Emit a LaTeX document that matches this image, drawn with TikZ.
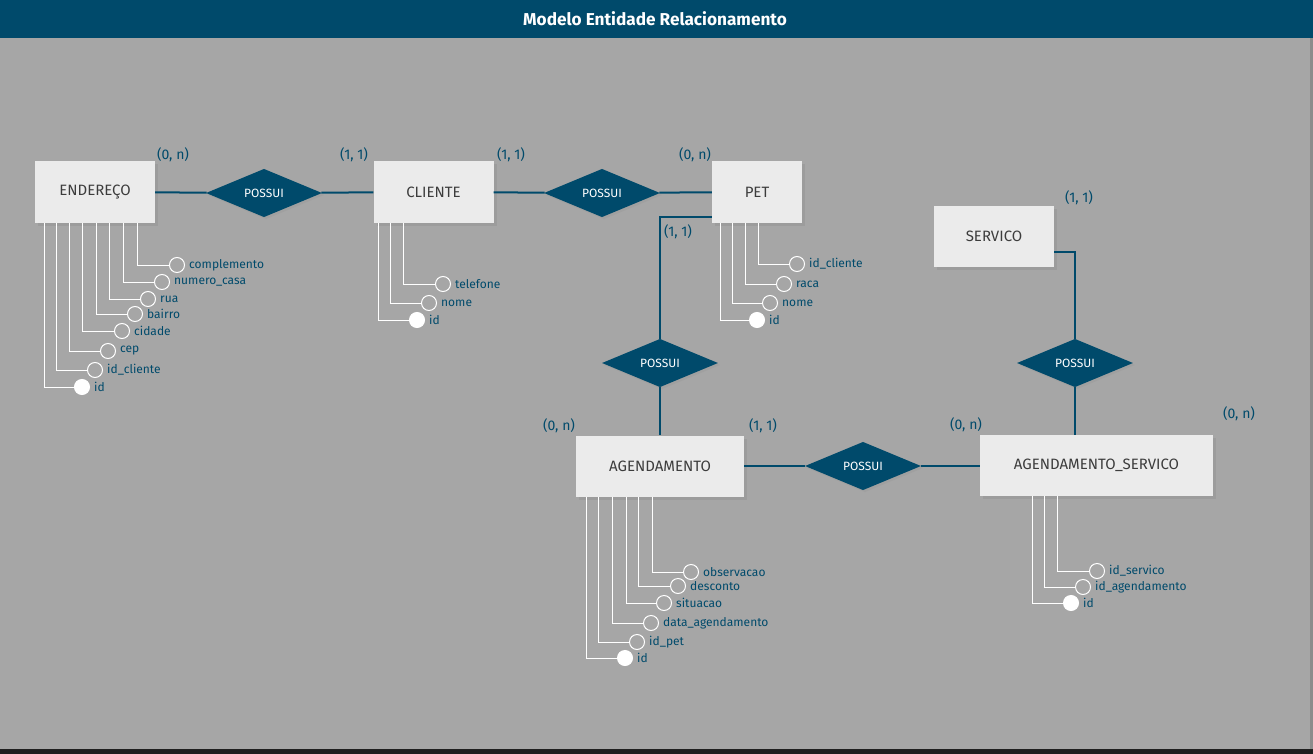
\documentclass[tikz,border=0pt]{standalone}
\usepackage{fontspec}
\setmainfont{Fira Sans}
\usetikzlibrary{shapes.geometric,shadows}
\definecolor{mblue}{HTML}{004A6B}
\definecolor{mgray}{HTML}{A6A6A6}
\definecolor{etext}{HTML}{3C3C3C}
\begin{document}
\begin{tikzpicture}[x=1pt, y=-1pt,
  ent/.style={rectangle, fill=white!92!black, minimum width=120pt, minimum height=61pt, inner sep=0pt,
    text=etext, font=\fontsize{15}{17}\selectfont,
    drop shadow={shadow xshift=3pt, shadow yshift=-3pt, opacity=0.25}},
  rel/.style={diamond, fill=mblue, minimum width=116pt, minimum height=46pt, inner sep=0pt,
    text=white, font=\fontsize{12}{14}\selectfont,
    drop shadow={shadow xshift=2pt, shadow yshift=-2pt, opacity=0.15}},
  link/.style={draw=mblue, line width=2pt},
  attr/.style={circle, draw=white, line width=1pt, minimum size=15pt, inner sep=0pt},
  key/.style={attr, fill=white},
  attrline/.style={draw=white, line width=1pt},
  attrtxt/.style={text=mblue, font=\fontsize{12}{14}\selectfont, inner sep=0pt, xshift=4pt},
  card/.style={text=mblue, font=\fontsize{14}{16}\selectfont}]
\useasboundingbox (0,0) rectangle (1313,754);
\fill[mgray] (0,0) rectangle (1313,754);
\fill[black!45] (1310,38) rectangle (1313,749);
\fill[black!88] (0,749) rectangle (1313,754);
\fill[mblue] (0,0) rectangle (1313,38);
\node[text=white, font=\bfseries\fontsize{17.2}{19}\selectfont] (title) at (655,19){Modelo Entidade Relacionamento};

% entidades
\node[ent] (ent0) at (95,192){ENDEREÇO};
\node[ent] (ent1) at (433.5,192){CLIENTE};
\node[ent, minimum width=90pt] (ent2) at (757,192){PET};
\node[ent] (ent3) at (994,236.5){SERVICO};
\node[ent, minimum width=168pt] (ent4) at (660,466){AGENDAMENTO};
\node[ent, minimum width=233pt] (ent5) at (1096.5,465.5){AGENDAMENTO\_SERVICO};

% relacionamentos
\node[rel] (rel0) at (264,193){POSSUI};
\node[rel] (rel1) at (602,193){POSSUI};
\node[rel] (rel2) at (660,363){POSSUI};
\node[rel] (rel3) at (863,466){POSSUI};
\node[rel] (rel4) at (1075,363){POSSUI};
\draw[link](ent0) -- (rel0);
\draw[link](rel0) -- (ent1);
\draw[link](ent1) -- (rel1);
\draw[link](rel1) -- (ent2);
\draw[link]([yshift=6pt]ent2.south west) -| (rel2);
\draw[link](rel2) -- (ent4);
\draw[link](ent4) -- (rel3);
\draw[link](rel3) -- (ent5.west |- rel3);
\draw[link]([yshift=15pt]ent3.south east) -| (rel4);
\draw[link](rel4) -- (rel4 |- ent5.north);

% cardinalidades
\node[card] (c0) at (173,155){(0, n)};
\node[card] (c1) at (354,155){(1, 1)};
\node[card] (c2) at (511,155){(1, 1)};
\node[card] (c3) at (695,155){(0, n)};
\node[card] (c4) at (678,232){(1, 1)};
\node[card] (c5) at (1079,198){(1, 1)};
\node[card] (c6) at (559,426){(0, n)};
\node[card] (c7) at (763,426){(1, 1)};
\node[card] (c8) at (966,425){(0, n)};
\node[card] (c9) at (1239,414){(0, n)};

% atributos ENDERECO
\node[key, label={[attrtxt]right:id}] (a0) at (82,387){};
\node[attr, label={[attrtxt]right:id\_cliente}] (a1) at (95,370){};
\node[attr, label={[attrtxt]right:cep}] (a2) at (108,351){};
\node[attr, label={[attrtxt]right:cidade}] (a3) at (122,331){};
\node[attr, label={[attrtxt]right:bairro}] (a4) at (135,314){};
\node[attr, label={[attrtxt]right:rua}] (a5) at (148,299){};
\node[attr, label={[attrtxt]right:numero\_casa}] (a6) at (162,282){};
\node[attr, label={[attrtxt]right:complemento}] (a7) at (177,265){};
\draw[attrline]([xshift=10pt]ent0.south west) |- (a0);
\draw[attrline]([xshift=22pt]ent0.south west) |- (a1);
\draw[attrline]([xshift=35pt]ent0.south west) |- (a2);
\draw[attrline]([xshift=48pt]ent0.south west) |- (a3);
\draw[attrline]([xshift=62pt]ent0.south west) |- (a4);
\draw[attrline]([xshift=75pt]ent0.south west) |- (a5);
\draw[attrline]([xshift=89pt]ent0.south west) |- (a6);
\draw[attrline]([xshift=103pt]ent0.south west) |- (a7);

% atributos CLIENTE
\node[key, label={[attrtxt]right:id}] (b0) at (417,320){};
\node[attr, label={[attrtxt]right:nome}] (b1) at (429,303){};
\node[attr, label={[attrtxt]right:telefone}] (b2) at (443,284){};
\draw[attrline]([xshift=5pt]ent1.south west) |- (b0);
\draw[attrline]([xshift=17pt]ent1.south west) |- (b1);
\draw[attrline]([xshift=30pt]ent1.south west) |- (b2);

% atributos PET
\node[key, label={[attrtxt]right:id}] (p0) at (757,320){};
\node[attr, label={[attrtxt]right:nome}] (p1) at (770,303){};
\node[attr, label={[attrtxt]right:raca}] (p2) at (784,284){};
\node[attr, label={[attrtxt]right:id\_cliente}] (p3) at (797,264){};
\draw[attrline]([xshift=9pt]ent2.south west) |- (p0);
\draw[attrline]([xshift=21pt]ent2.south west) |- (p1);
\draw[attrline]([xshift=34pt]ent2.south west) |- (p2);
\draw[attrline]([xshift=47pt]ent2.south west) |- (p3);

% atributos AGENDAMENTO
\node[key, label={[attrtxt]right:id}] (g0) at (625,658){};
\node[attr, label={[attrtxt]right:id\_pet}] (g1) at (637,642){};
\node[attr, label={[attrtxt]right:data\_agendamento}] (g2) at (651,623){};
\node[attr, label={[attrtxt]right:situacao}] (g3) at (664,603){};
\node[attr, label={[attrtxt]right:desconto}] (g4) at (678,586){};
\node[attr, label={[attrtxt]right:observacao}] (g5) at (691,572){};
\draw[attrline]([xshift=11pt]ent4.south west) |- (g0);
\draw[attrline]([xshift=23pt]ent4.south west) |- (g1);
\draw[attrline]([xshift=37pt]ent4.south west) |- (g2);
\draw[attrline]([xshift=51pt]ent4.south west) |- (g3);
\draw[attrline]([xshift=63pt]ent4.south west) |- (g4);
\draw[attrline]([xshift=77pt]ent4.south west) |- (g5);

% atributos AGENDAMENTO_SERVICO
\node[key, label={[attrtxt]right:id}] (s0) at (1071,603){};
\node[attr, label={[attrtxt]right:id\_agendamento}] (s1) at (1083,587){};
\node[attr, label={[attrtxt]right:id\_servico}] (s2) at (1097,571){};
\draw[attrline]([xshift=53pt]ent5.south west) |- (s0);
\draw[attrline]([xshift=65pt]ent5.south west) |- (s1);
\draw[attrline]([xshift=78pt]ent5.south west) |- (s2);
\end{tikzpicture}
\end{document}
